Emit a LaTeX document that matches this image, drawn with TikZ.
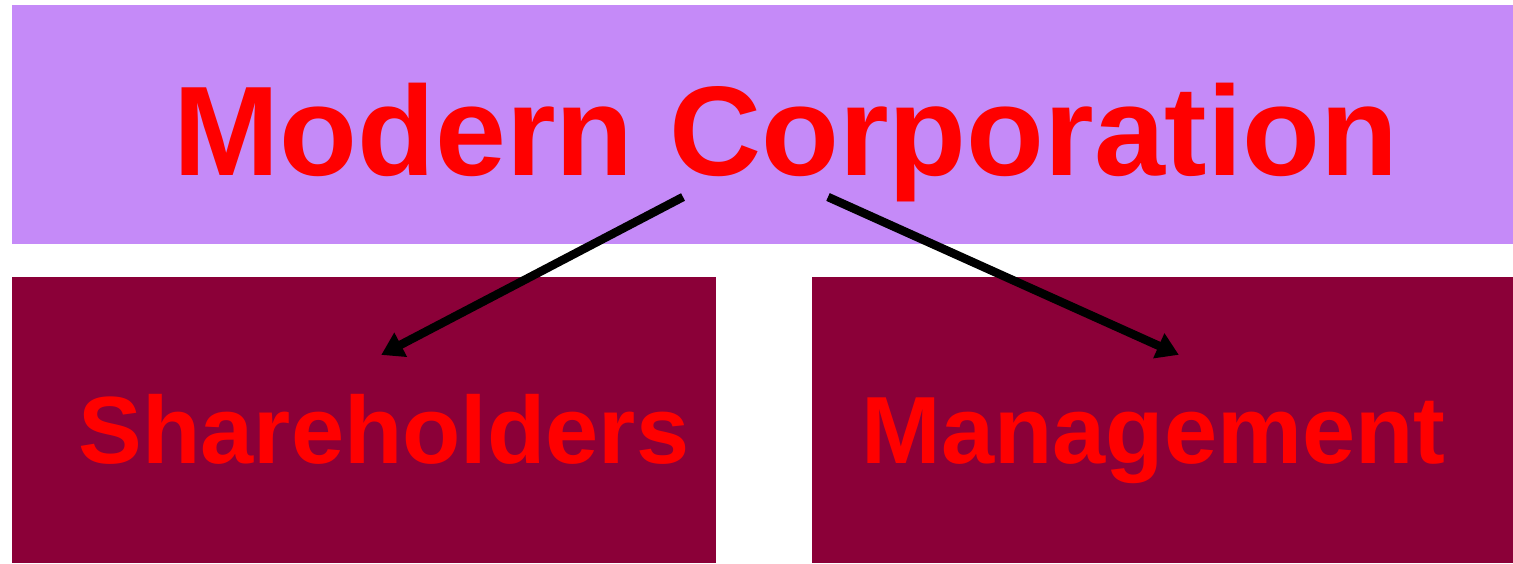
\documentclass[tikz,border=0pt]{standalone}
\usepackage{fontspec}
\setmainfont{Liberation Sans}
\usetikzlibrary{arrows.meta}
\definecolor{topfill}{HTML}{C58AF8}
\definecolor{botfill}{HTML}{8B0038}
\definecolor{txtred}{HTML}{FF0000}
\tikzset{
  box/.style={draw=none,inner sep=0pt,outer sep=0pt},
  lbl/.style={text=txtred,font=\bfseries,inner sep=0pt,anchor=base},
  conn/.style={line width=8.5pt,-{Triangle[length=22pt,width=26pt]},shorten >=-2pt}
}
\begin{document}
\begin{tikzpicture}[x=1pt,y=-1pt]
\useasboundingbox (0,0) rectangle (1513,563);
\fill[topfill] (12,5) rectangle (1513,244);
\fill[botfill] (12,277) rectangle (716,563);
\fill[botfill] (812,277) rectangle (1513,563);
\node[box] (top) at (762.5,124.5) {};
\node[box] (left) at (364,420) {};
\node[box] (right) at (1162.5,420) {};
\node[lbl,font=\fontsize{127.5}{140}\selectfont\bfseries] (t1) at (786,175) {Modern Corporation};
\node[lbl,font=\fontsize{95.5}{105}\selectfont\bfseries] (t2) at (384,463) {Shareholders};
\node[lbl,font=\fontsize{95.5}{105}\selectfont\bfseries] (t3) at (1153.5,463) {Management};
\coordinate (s1) at (683,197);
\coordinate (e1) at (383,354);
\coordinate (s2) at (828,197);
\coordinate (e2) at (1177,354);
\draw[conn] (s1) -- (e1);
\draw[conn] (s2) -- (e2);
\end{tikzpicture}
\end{document}
